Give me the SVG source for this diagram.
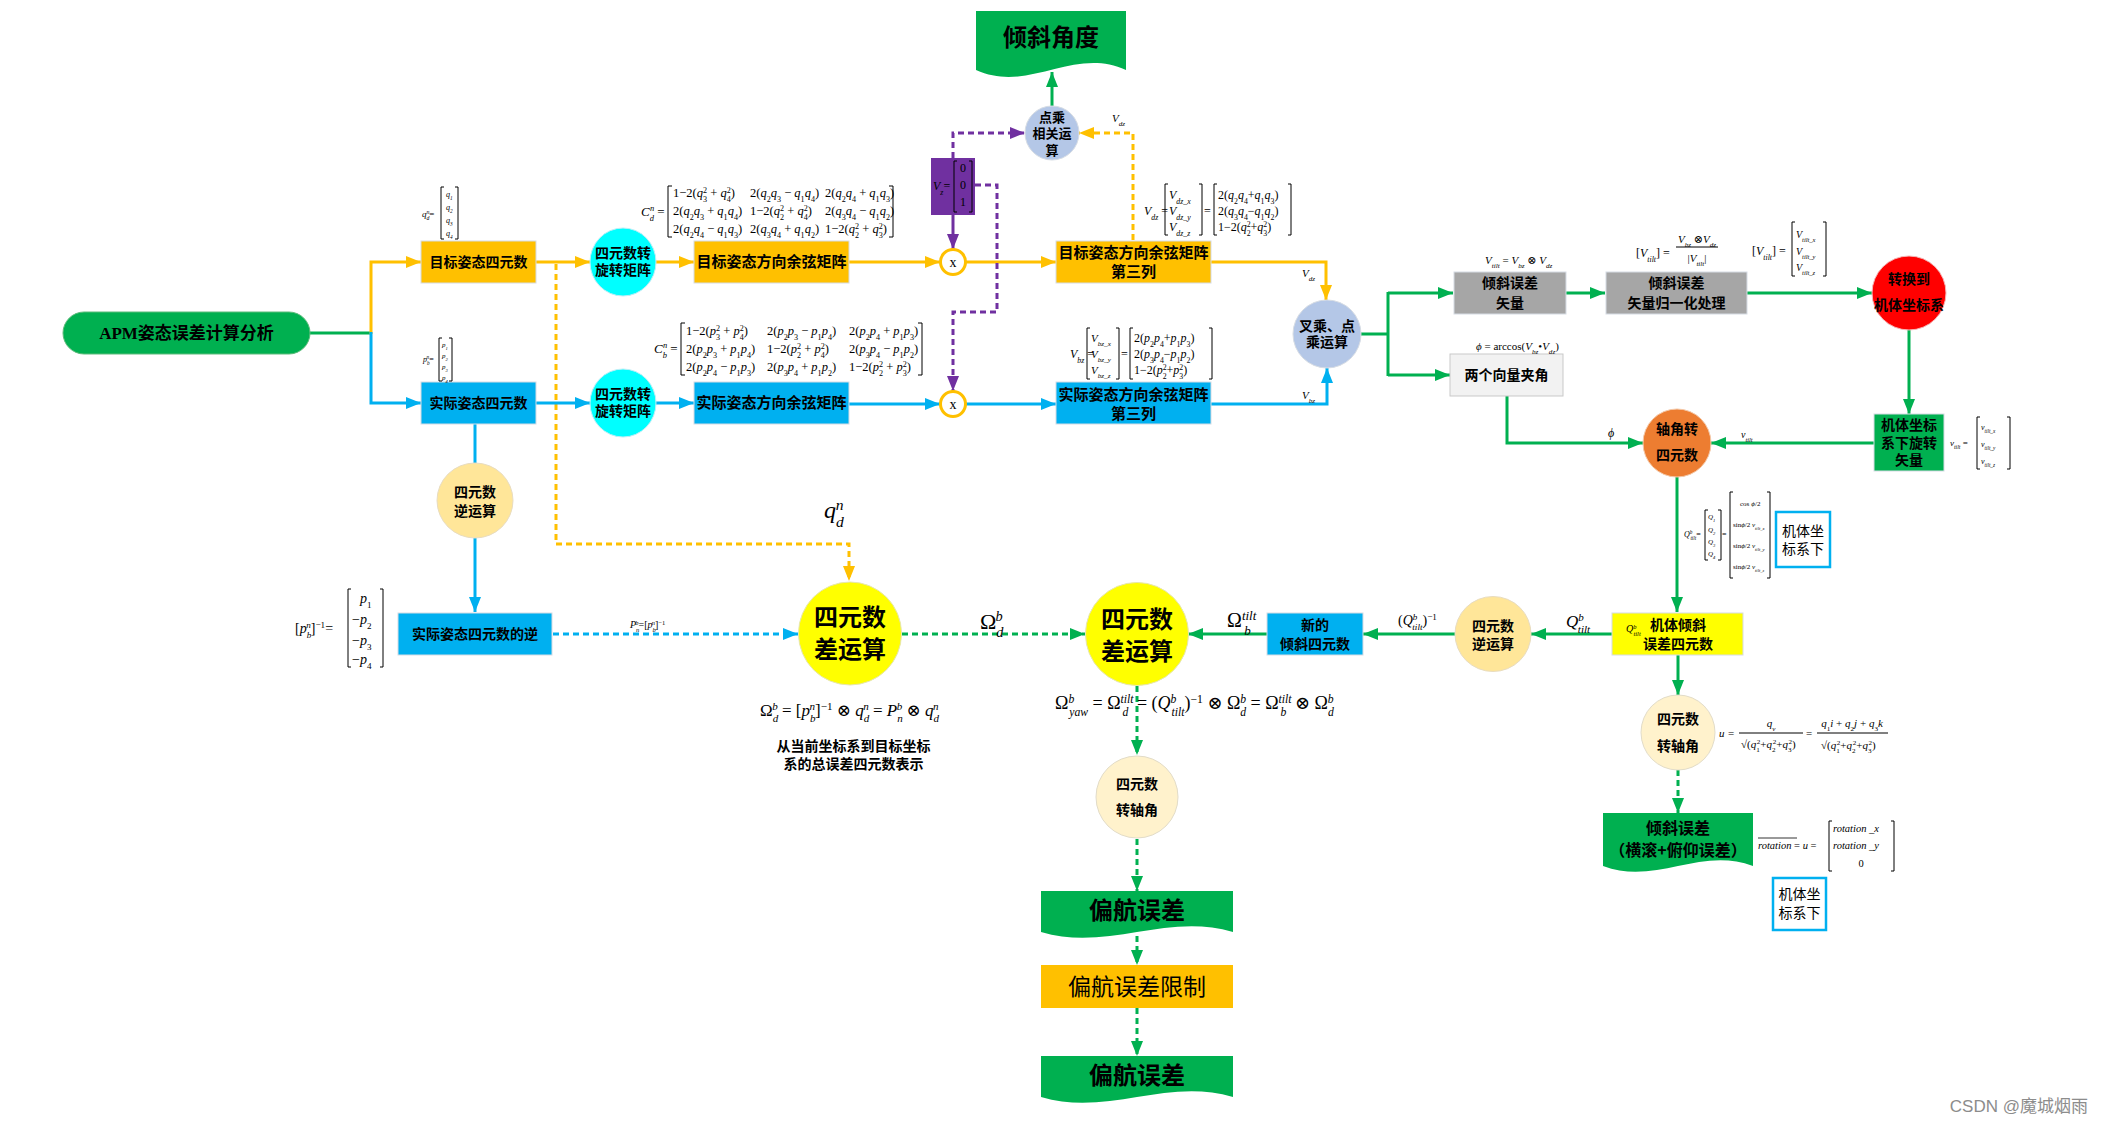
<svg xmlns="http://www.w3.org/2000/svg" width="2105" height="1126" viewBox="0 0 2105 1126">
<defs>
<style>
.cn{font-family:"Noto Sans CJK SC","Noto Sans",sans-serif;font-weight:bold;fill:#000;text-anchor:middle}
.cr{font-family:"Noto Sans CJK SC","Noto Sans",sans-serif;font-weight:normal;fill:#000;text-anchor:middle}
.m{font-family:"Liberation Serif","DejaVu Serif",serif;fill:#000}
.i{font-style:italic}
.s{font-size:65%;baseline-shift:sub}
.u{font-size:65%;baseline-shift:super}
.br{fill:none;stroke:#000;stroke-width:1}
.ln{fill:none;stroke-width:3}
.o{stroke:#FFC000}
.b{stroke:#00B0F0}
.g{stroke:#00B050}
.p{stroke:#7030A0}
.d{stroke-dasharray:6 4}
.box{stroke:#D6DCE4;stroke-width:1}
</style>
<marker id="mo" viewBox="0 0 15 12" refX="15" refY="6" markerWidth="15" markerHeight="12" markerUnits="userSpaceOnUse" orient="auto"><path d="M0,0 L15,6 L0,12 z" fill="#FFC000"/></marker>
<marker id="mb" viewBox="0 0 15 12" refX="15" refY="6" markerWidth="15" markerHeight="12" markerUnits="userSpaceOnUse" orient="auto"><path d="M0,0 L15,6 L0,12 z" fill="#00B0F0"/></marker>
<marker id="mg" viewBox="0 0 15 12" refX="15" refY="6" markerWidth="15" markerHeight="12" markerUnits="userSpaceOnUse" orient="auto"><path d="M0,0 L15,6 L0,12 z" fill="#00B050"/></marker>
<marker id="mp" viewBox="0 0 15 12" refX="15" refY="6" markerWidth="15" markerHeight="12" markerUnits="userSpaceOnUse" orient="auto"><path d="M0,0 L15,6 L0,12 z" fill="#7030A0"/></marker>
</defs>
<rect width="2105" height="1126" fill="#fff"/>

<g id="connectors">
<path class="ln g" d="M310,333 H371"/>
<path class="ln o" d="M371,334 V262 H421" marker-end="url(#mo)"/>
<path class="ln b" d="M371,332 V403 H421" marker-end="url(#mb)"/>
<path class="ln o" d="M536,262 H590" marker-end="url(#mo)"/>
<path class="ln o" d="M656,262 H694" marker-end="url(#mo)"/>
<path class="ln o" d="M849,262 H940" marker-end="url(#mo)"/>
<path class="ln o" d="M966,262 H1056" marker-end="url(#mo)"/>
<path class="ln o" d="M1211,262 H1326 V300" marker-end="url(#mo)"/>
<path class="ln o d" d="M556,264 V544 H849 V581" marker-end="url(#mo)"/>
<path class="ln o d" d="M1133,240 V133 H1079" marker-end="url(#mo)"/>
<path class="ln b" d="M536,403 H590" marker-end="url(#mb)"/>
<path class="ln b" d="M656,403 H694" marker-end="url(#mb)"/>
<path class="ln b" d="M849,404 H940" marker-end="url(#mb)"/>
<path class="ln b" d="M966,404 H1056" marker-end="url(#mb)"/>
<path class="ln b" d="M1211,404 H1327 V368" marker-end="url(#mb)"/>
<path class="ln b" d="M475,424 V463"/>
<path class="ln b" d="M475,538 V612" marker-end="url(#mb)"/>
<path class="ln b d" d="M553,634 H798" marker-end="url(#mb)"/>
<path class="ln p d" d="M953,158 V133 H1025" marker-end="url(#mp)"/>
<path class="ln p" d="M953,215 V249" marker-end="url(#mp)"/>
<path class="ln p d" d="M975,185 H997 V312 H953 V391" marker-end="url(#mp)"/>
<path class="ln g" d="M1052,106 V72" marker-end="url(#mg)"/>
<path class="ln g" d="M1361,334 H1388 M1388,292 V376"/>
<path class="ln g" d="M1388,293 H1453" marker-end="url(#mg)"/>
<path class="ln g" d="M1388,375 H1450" marker-end="url(#mg)"/>
<path class="ln g" d="M1566,293 H1605" marker-end="url(#mg)"/>
<path class="ln g" d="M1747,293 H1872" marker-end="url(#mg)"/>
<path class="ln g" d="M1909,330 V414" marker-end="url(#mg)"/>
<path class="ln g" d="M1874,443 H1711" marker-end="url(#mg)"/>
<path class="ln g" d="M1507,396 V443 H1643" marker-end="url(#mg)"/>
<path class="ln g" d="M1677,477 V612" marker-end="url(#mg)"/>
<path class="ln g" d="M1612,634 H1531" marker-end="url(#mg)"/>
<path class="ln g" d="M1455,634 H1363" marker-end="url(#mg)"/>
<path class="ln g" d="M1267,634 H1188" marker-end="url(#mg)"/>
<path class="ln g" d="M1678,655 V695" marker-end="url(#mg)"/>
<path class="ln g d" d="M1678,770 V813" marker-end="url(#mg)"/>
<path class="ln g d" d="M902,634 H1085" marker-end="url(#mg)"/>
<path class="ln g d" d="M1137,686 V755" marker-end="url(#mg)"/>
<path class="ln g d" d="M1137,839 V891" marker-end="url(#mg)"/>
<path class="ln g d" d="M1137,936 V965" marker-end="url(#mg)"/>
<path class="ln g d" d="M1137,1008 V1056" marker-end="url(#mg)"/>
</g>

<g id="n-apm">
<rect x="63" y="312" width="247" height="42" rx="21" fill="#00B050" stroke="#5DBB7A"/>
<text x="186.5" y="339" font-size="17" font-weight="bold" text-anchor="middle" font-family="Liberation Serif,Noto Sans CJK SC,serif">APM姿态误差计算分析</text>
</g>
<g id="n-target-q">
<rect class="box" x="421" y="241" width="115" height="42" fill="#FFC000"/>
<text class="cn" x="478.5" y="267" font-size="14">目标姿态四元数</text>
</g>
<g id="n-actual-q">
<rect class="box" x="421" y="382" width="115" height="42" fill="#00B0F0"/>
<text class="cn" x="478.5" y="408" font-size="14">实际姿态四元数</text>
</g>
<g id="n-rot1">
<ellipse cx="623" cy="262" rx="33" ry="34" fill="#00FFFF" stroke="#BDEFF7"/>
<text class="cn" x="623" y="258" font-size="14">四元数转</text>
<text class="cn" x="623" y="275" font-size="14">旋转矩阵</text>
</g>
<g id="n-rot2">
<ellipse cx="623" cy="403" rx="33" ry="34" fill="#00FFFF" stroke="#BDEFF7"/>
<text class="cn" x="623" y="399" font-size="14">四元数转</text>
<text class="cn" x="623" y="416" font-size="14">旋转矩阵</text>
</g>
<g id="n-dcm-d">
<rect class="box" x="694" y="241" width="155" height="42" fill="#FFC000"/>
<text class="cn" x="771.5" y="267" font-size="15">目标姿态方向余弦矩阵</text>
</g>
<g id="n-dcm-b">
<rect class="box" x="694" y="382" width="155" height="42" fill="#00B0F0"/>
<text class="cn" x="771.5" y="408" font-size="15">实际姿态方向余弦矩阵</text>
</g>
<g id="n-mul1">
<circle cx="953" cy="262" r="12.5" fill="#fff" stroke="#FFC000" stroke-width="3"/>
<text class="m" x="953" y="267" font-size="14" text-anchor="middle">x</text>
</g>
<g id="n-mul2">
<circle cx="953" cy="404" r="12.5" fill="#fff" stroke="#FFC000" stroke-width="3"/>
<text class="m" x="953" y="409" font-size="14" text-anchor="middle">x</text>
</g>
<g id="n-col3-d">
<rect class="box" x="1056" y="241" width="155" height="42" fill="#FFC000"/>
<text class="cn" x="1133.5" y="258" font-size="15">目标姿态方向余弦矩阵</text>
<text class="cn" x="1133.5" y="277" font-size="15">第三列</text>
</g>
<g id="n-col3-b">
<rect class="box" x="1056" y="382" width="155" height="42" fill="#00B0F0"/>
<text class="cn" x="1133.5" y="400" font-size="15">实际姿态方向余弦矩阵</text>
<text class="cn" x="1133.5" y="419" font-size="15">第三列</text>
</g>
<g id="n-vz">
<rect x="931" y="158" width="44" height="57" fill="#7030A0"/>
<text class="m" x="933" y="190" font-size="12"><tspan class="i">V</tspan><tspan class="s i">z</tspan>=</text>
<path class="br" d="M957,161 H954 V212 H957 M969,161 H972 V212 H969"/>
<text class="m" x="963" y="172" font-size="12" text-anchor="middle">0</text>
<text class="m" x="963" y="189" font-size="12" text-anchor="middle">0</text>
<text class="m" x="963" y="206" font-size="12" text-anchor="middle">1</text>
</g>
<g id="n-dot">
<circle cx="1052" cy="133" r="27" fill="#B4C7E7" stroke="#D6DCE4"/>
<text class="cn" x="1052" y="121.5" font-size="13">点乘</text>
<text class="cn" x="1052" y="138" font-size="13">相关运</text>
<text class="cn" x="1052" y="154.5" font-size="13">算</text>
</g>
<g id="n-tilt-angle">
<path d="M976,11 H1126 V70 C1073,46 1029,94 976,70 Z" fill="#00B050"/>
<text class="cn" x="1051" y="46" font-size="24">倾斜角度</text>
</g>
<g id="n-cross">
<ellipse cx="1327" cy="334" rx="34" ry="34" fill="#B4C7E7" stroke="#D6DCE4"/>
<text class="cn" x="1327" y="331" font-size="14">叉乘、点</text>
<text class="cn" x="1327" y="347" font-size="14">乘运算</text>
</g>
<g id="n-tilt-vec">
<rect class="box" x="1454" y="272" width="112" height="42" fill="#A6A6A6"/>
<text class="cn" x="1510" y="288" font-size="14">倾斜误差</text>
<text class="cn" x="1510" y="308" font-size="14">矢量</text>
</g>
<g id="n-tilt-norm">
<rect class="box" x="1606" y="272" width="141" height="42" fill="#A6A6A6"/>
<text class="cn" x="1676.5" y="288" font-size="14">倾斜误差</text>
<text class="cn" x="1676.5" y="308" font-size="14">矢量归一化处理</text>
</g>
<g id="n-to-body">
<circle cx="1909" cy="293" r="37" fill="#FF0000" stroke="#F4B6B6"/>
<text class="cn" x="1909" y="284" font-size="14">转换到</text>
<text class="cn" x="1909" y="310" font-size="14">机体坐标系</text>
</g>
<g id="n-body-rot">
<rect class="box" x="1874" y="414" width="70" height="57" fill="#00B050"/>
<text class="cn" x="1909" y="430" font-size="14">机体坐标</text>
<text class="cn" x="1909" y="448" font-size="14">系下旋转</text>
<text class="cn" x="1909" y="465" font-size="14">矢量</text>
</g>
<g id="n-angle">
<rect x="1450" y="354" width="113" height="42" fill="#F2F2F2" stroke="#C9C9C9"/>
<text class="cn" x="1506.5" y="380" font-size="14">两个向量夹角</text>
</g>
<g id="n-axis2quat">
<circle cx="1677" cy="443" r="34" fill="#ED7D31" stroke="#F4C7A6"/>
<text class="cn" x="1677" y="434" font-size="14">轴角转</text>
<text class="cn" x="1677" y="460" font-size="14">四元数</text>
</g>
<g id="n-tilt-quat">
<rect class="box" x="1612" y="613" width="131" height="42" fill="#FFFF00"/>
<text class="m" x="1626" y="632" font-size="10"><tspan class="i">Q</tspan><tspan class="u i">b</tspan><tspan class="s i" dx="-3">tilt</tspan></text>
<text class="cn" x="1678" y="630" font-size="14">机体倾斜</text>
<text class="cn" x="1678" y="649" font-size="14">误差四元数</text>
</g>
<g id="n-inv2">
<ellipse cx="1493" cy="634" rx="38" ry="37.5" fill="#FFE699" stroke="#E8DCC0"/>
<text class="cn" x="1493" y="631" font-size="14">四元数</text>
<text class="cn" x="1493" y="649" font-size="14">逆运算</text>
</g>
<g id="n-new-tilt">
<rect class="box" x="1267" y="613" width="96" height="42" fill="#00B0F0"/>
<text class="cn" x="1315" y="630" font-size="14">新的</text>
<text class="cn" x="1315" y="649" font-size="14">倾斜四元数</text>
</g>
<g id="n-diff1">
<circle cx="850" cy="633.5" r="51.5" fill="#FFFF00" stroke="#E6E6B0"/>
<text class="cn" x="850" y="626" font-size="24">四元数</text>
<text class="cn" x="850" y="658" font-size="24">差运算</text>
</g>
<g id="n-diff2">
<circle cx="1137" cy="634" r="51.5" fill="#FFFF00" stroke="#E6E6B0"/>
<text class="cn" x="1137" y="628" font-size="24">四元数</text>
<text class="cn" x="1137" y="660" font-size="24">差运算</text>
</g>
<g id="n-inv1">
<ellipse cx="475" cy="500.5" rx="38" ry="37.5" fill="#FFE699" stroke="#E8DCC0"/>
<text class="cn" x="475" y="497" font-size="14">四元数</text>
<text class="cn" x="475" y="516" font-size="14">逆运算</text>
</g>
<g id="n-actual-inv">
<rect class="box" x="398" y="613" width="154" height="42" fill="#00B0F0"/>
<text class="cn" x="475" y="639" font-size="14">实际姿态四元数的逆</text>
</g>
<g id="n-q2axis2">
<ellipse cx="1137" cy="797" rx="41" ry="41" fill="#FFF2CC" stroke="#E2DCC8"/>
<text class="cn" x="1137" y="788.5" font-size="14">四元数</text>
<text class="cn" x="1137" y="814.5" font-size="14">转轴角</text>
</g>
<g id="n-q2axis1">
<ellipse cx="1678" cy="732.5" rx="37" ry="37.5" fill="#FFF2CC" stroke="#E2DCC8"/>
<text class="cn" x="1678" y="724" font-size="14">四元数</text>
<text class="cn" x="1678" y="751" font-size="14">转轴角</text>
</g>
<g id="n-tilt-err">
<path d="M1603,813 H1753 V866 C1700,846 1656,886 1603,866 Z" fill="#00B050"/>
<text class="cn" x="1678" y="834" font-size="16">倾斜误差</text>
<text class="cn" x="1678" y="856" font-size="16">（横滚+俯仰误差）</text>
</g>
<g id="n-yaw1">
<path d="M1041,891 H1233 V932 C1166,912 1108,952 1041,932 Z" fill="#00B050"/>
<text class="cn" x="1137" y="918.5" font-size="24">偏航误差</text>
</g>
<g id="n-yaw-limit">
<rect x="1041" y="965" width="192" height="43" fill="#FFC000"/>
<text class="cr" x="1137" y="995" font-size="23">偏航误差限制</text>
</g>
<g id="n-yaw2">
<path d="M1041,1056 H1233 V1097 C1166,1077 1108,1117 1041,1097 Z" fill="#00B050"/>
<text class="cn" x="1137" y="1083.5" font-size="24">偏航误差</text>
</g>
<g id="n-body-note1">
<rect x="1776" y="512" width="54" height="55" fill="#fff" stroke="#00B0F0" stroke-width="2.5"/>
<text class="cr" x="1803" y="536" font-size="14">机体坐</text>
<text class="cr" x="1803" y="554" font-size="14">标系下</text>
</g>
<g id="n-body-note2">
<rect x="1773" y="878" width="53" height="52" fill="#fff" stroke="#00B0F0" stroke-width="2.5"/>
<text class="cr" x="1799.5" y="899" font-size="14">机体坐</text>
<text class="cr" x="1799.5" y="918" font-size="14">标系下</text>
</g>

<g id="formulas">
<text class="m" x="422" y="217" font-size="9"><tspan class="i">q</tspan><tspan class="s i">d</tspan><tspan class="u i" dx="-3">n</tspan>=</text>
<path class="br" d="M444,187 H441 V239 H444 M455,187 H458 V239 H455"/>
<text class="m i" x="446" y="197" font-size="8">q<tspan class="s">1</tspan></text>
<text class="m i" x="446" y="210" font-size="8">q<tspan class="s">2</tspan></text>
<text class="m i" x="446" y="223" font-size="8">q<tspan class="s">3</tspan></text>
<text class="m i" x="446" y="236" font-size="8">q<tspan class="s">4</tspan></text>
<text class="m" x="423" y="362" font-size="8"><tspan class="i">p</tspan><tspan class="s i">b</tspan><tspan class="u i" dx="-3">n</tspan>=</text>
<path class="br" d="M442,338 H439 V381 H442 M449,338 H452 V381 H449"/>
<text class="m i" x="442" y="347" font-size="7">p<tspan class="s">1</tspan></text>
<text class="m i" x="442" y="358" font-size="7">p<tspan class="s">2</tspan></text>
<text class="m i" x="442" y="369" font-size="7">p<tspan class="s">3</tspan></text>
<text class="m i" x="442" y="380" font-size="7">p<tspan class="s">4</tspan></text>
<text class="m" x="641" y="216" font-size="13"><tspan class="i">C</tspan><tspan class="s i">d</tspan><tspan class="u i" dx="-4">n</tspan> =</text>
<path class="br" d="M672,186 H668 V237 H672 M889,186 H893 V237 H889"/>
<g class="m" font-size="12.5">
<text x="673" y="197">1−2(<tspan class="i">q</tspan><tspan class="s">3</tspan><tspan class="u" dx="-4">2</tspan> + <tspan class="i">q</tspan><tspan class="s">4</tspan><tspan class="u" dx="-4">2</tspan>)</text>
<text x="750" y="197">2(<tspan class="i">q</tspan><tspan class="s">2</tspan><tspan class="i">q</tspan><tspan class="s">3</tspan> − <tspan class="i">q</tspan><tspan class="s">1</tspan><tspan class="i">q</tspan><tspan class="s">4</tspan>)</text>
<text x="825" y="197">2(<tspan class="i">q</tspan><tspan class="s">2</tspan><tspan class="i">q</tspan><tspan class="s">4</tspan> + <tspan class="i">q</tspan><tspan class="s">1</tspan><tspan class="i">q</tspan><tspan class="s">3</tspan>)</text>
<text x="673" y="215">2(<tspan class="i">q</tspan><tspan class="s">2</tspan><tspan class="i">q</tspan><tspan class="s">3</tspan> + <tspan class="i">q</tspan><tspan class="s">1</tspan><tspan class="i">q</tspan><tspan class="s">4</tspan>)</text>
<text x="750" y="215">1−2(<tspan class="i">q</tspan><tspan class="s">2</tspan><tspan class="u" dx="-4">2</tspan> + <tspan class="i">q</tspan><tspan class="s">4</tspan><tspan class="u" dx="-4">2</tspan>)</text>
<text x="825" y="215">2(<tspan class="i">q</tspan><tspan class="s">3</tspan><tspan class="i">q</tspan><tspan class="s">4</tspan> − <tspan class="i">q</tspan><tspan class="s">1</tspan><tspan class="i">q</tspan><tspan class="s">2</tspan>)</text>
<text x="673" y="233">2(<tspan class="i">q</tspan><tspan class="s">2</tspan><tspan class="i">q</tspan><tspan class="s">4</tspan> − <tspan class="i">q</tspan><tspan class="s">1</tspan><tspan class="i">q</tspan><tspan class="s">3</tspan>)</text>
<text x="750" y="233">2(<tspan class="i">q</tspan><tspan class="s">3</tspan><tspan class="i">q</tspan><tspan class="s">4</tspan> + <tspan class="i">q</tspan><tspan class="s">1</tspan><tspan class="i">q</tspan><tspan class="s">2</tspan>)</text>
<text x="825" y="233">1−2(<tspan class="i">q</tspan><tspan class="s">2</tspan><tspan class="u" dx="-4">2</tspan> + <tspan class="i">q</tspan><tspan class="s">3</tspan><tspan class="u" dx="-4">2</tspan>)</text>
</g>
<text class="m" x="654" y="353" font-size="13"><tspan class="i">C</tspan><tspan class="s i">b</tspan><tspan class="u i" dx="-4">n</tspan> =</text>
<path class="br" d="M685,323 H681 V375 H685 M918,323 H922 V375 H918"/>
<g class="m" font-size="12.5">
<text x="686" y="335">1−2(<tspan class="i">p</tspan><tspan class="s">3</tspan><tspan class="u" dx="-4">2</tspan> + <tspan class="i">p</tspan><tspan class="s">4</tspan><tspan class="u" dx="-4">2</tspan>)</text>
<text x="767" y="335">2(<tspan class="i">p</tspan><tspan class="s">2</tspan><tspan class="i">p</tspan><tspan class="s">3</tspan> − <tspan class="i">p</tspan><tspan class="s">1</tspan><tspan class="i">p</tspan><tspan class="s">4</tspan>)</text>
<text x="849" y="335">2(<tspan class="i">p</tspan><tspan class="s">2</tspan><tspan class="i">p</tspan><tspan class="s">4</tspan> + <tspan class="i">p</tspan><tspan class="s">1</tspan><tspan class="i">p</tspan><tspan class="s">3</tspan>)</text>
<text x="686" y="353">2(<tspan class="i">p</tspan><tspan class="s">2</tspan><tspan class="i">p</tspan><tspan class="s">3</tspan> + <tspan class="i">p</tspan><tspan class="s">1</tspan><tspan class="i">p</tspan><tspan class="s">4</tspan>)</text>
<text x="767" y="353">1−2(<tspan class="i">p</tspan><tspan class="s">2</tspan><tspan class="u" dx="-4">2</tspan> + <tspan class="i">p</tspan><tspan class="s">4</tspan><tspan class="u" dx="-4">2</tspan>)</text>
<text x="849" y="353">2(<tspan class="i">p</tspan><tspan class="s">3</tspan><tspan class="i">p</tspan><tspan class="s">4</tspan> − <tspan class="i">p</tspan><tspan class="s">1</tspan><tspan class="i">p</tspan><tspan class="s">2</tspan>)</text>
<text x="686" y="371">2(<tspan class="i">p</tspan><tspan class="s">2</tspan><tspan class="i">p</tspan><tspan class="s">4</tspan> − <tspan class="i">p</tspan><tspan class="s">1</tspan><tspan class="i">p</tspan><tspan class="s">3</tspan>)</text>
<text x="767" y="371">2(<tspan class="i">p</tspan><tspan class="s">3</tspan><tspan class="i">p</tspan><tspan class="s">4</tspan> + <tspan class="i">p</tspan><tspan class="s">1</tspan><tspan class="i">p</tspan><tspan class="s">2</tspan>)</text>
<text x="849" y="371">1−2(<tspan class="i">p</tspan><tspan class="s">2</tspan><tspan class="u" dx="-4">2</tspan> + <tspan class="i">p</tspan><tspan class="s">3</tspan><tspan class="u" dx="-4">2</tspan>)</text>
</g>
<text class="m" x="1144" y="215" font-size="12"><tspan class="i">V</tspan><tspan class="s i">dz</tspan> =</text>
<path class="br" d="M1168,184 H1165 V235 H1168 M1199,184 H1202 V235 H1199"/>
<g class="m i" font-size="12">
<text x="1169" y="199">V<tspan class="s">dz_x</tspan></text>
<text x="1169" y="215">V<tspan class="s">dz_y</tspan></text>
<text x="1169" y="231">V<tspan class="s">dz_z</tspan></text>
</g>
<text class="m" x="1204" y="215" font-size="12">=</text>
<path class="br" d="M1217,184 H1214 V235 H1217 M1288,184 H1291 V235 H1288"/>
<g class="m" font-size="12">
<text x="1218" y="199">2(<tspan class="i">q</tspan><tspan class="s">2</tspan><tspan class="i">q</tspan><tspan class="s">4</tspan>+<tspan class="i">q</tspan><tspan class="s">1</tspan><tspan class="i">q</tspan><tspan class="s">3</tspan>)</text>
<text x="1218" y="215">2(<tspan class="i">q</tspan><tspan class="s">3</tspan><tspan class="i">q</tspan><tspan class="s">4</tspan>−<tspan class="i">q</tspan><tspan class="s">1</tspan><tspan class="i">q</tspan><tspan class="s">2</tspan>)</text>
<text x="1218" y="231">1−2(<tspan class="i">q</tspan><tspan class="s">2</tspan><tspan class="u" dx="-4">2</tspan>+<tspan class="i">q</tspan><tspan class="s">3</tspan><tspan class="u" dx="-4">2</tspan>)</text>
</g>
<text class="m" x="1070" y="358" font-size="12"><tspan class="i">V</tspan><tspan class="s i">bz</tspan> =</text>
<path class="br" d="M1090,328 H1087 V379 H1090 M1116,328 H1119 V379 H1116"/>
<g class="m i" font-size="11">
<text x="1091" y="342">V<tspan class="s">bz_x</tspan></text>
<text x="1091" y="358">V<tspan class="s">bz_y</tspan></text>
<text x="1091" y="374">V<tspan class="s">bz_z</tspan></text>
</g>
<text class="m" x="1121" y="358" font-size="12">=</text>
<path class="br" d="M1133,328 H1130 V379 H1133 M1209,328 H1212 V379 H1209"/>
<g class="m" font-size="12">
<text x="1134" y="342">2(<tspan class="i">p</tspan><tspan class="s">2</tspan><tspan class="i">p</tspan><tspan class="s">4</tspan>+<tspan class="i">p</tspan><tspan class="s">1</tspan><tspan class="i">p</tspan><tspan class="s">3</tspan>)</text>
<text x="1134" y="358">2(<tspan class="i">p</tspan><tspan class="s">3</tspan><tspan class="i">p</tspan><tspan class="s">4</tspan>−<tspan class="i">p</tspan><tspan class="s">1</tspan><tspan class="i">p</tspan><tspan class="s">2</tspan>)</text>
<text x="1134" y="374">1−2(<tspan class="i">p</tspan><tspan class="s">2</tspan><tspan class="u" dx="-4">2</tspan>+<tspan class="i">p</tspan><tspan class="s">3</tspan><tspan class="u" dx="-4">2</tspan>)</text>
</g>
<text class="m i" x="1112" y="122" font-size="11">V<tspan class="s">dz</tspan></text>
<text class="m i" x="1302" y="277" font-size="11">V<tspan class="s">dz</tspan></text>
<text class="m i" x="1302" y="399" font-size="11">V<tspan class="s">bz</tspan></text>
<text class="m" x="1485" y="264" font-size="11"><tspan class="i">V</tspan><tspan class="s i">tilt</tspan> = <tspan class="i">V</tspan><tspan class="s i">bz</tspan> ⊗ <tspan class="i">V</tspan><tspan class="s i">dz</tspan></text>
<text class="m" x="1636" y="257" font-size="12">[<tspan class="i">V</tspan><tspan class="s i">tilt</tspan>] =</text>
<text class="m" x="1697" y="243" font-size="11" text-anchor="middle"><tspan class="i">V</tspan><tspan class="s i">bz</tspan> ⊗<tspan class="i">V</tspan><tspan class="s i">dz</tspan></text>
<path d="M1676,247 H1718" stroke="#000" stroke-width="1"/>
<text class="m" x="1697" y="262" font-size="11" text-anchor="middle">|<tspan class="i">V</tspan><tspan class="s i">tilt</tspan>|</text>
<text class="m" x="1752" y="255" font-size="12">[<tspan class="i">V</tspan><tspan class="s i">tilt</tspan>] =</text>
<path class="br" d="M1795,222 H1792 V276 H1795 M1823,222 H1826 V276 H1823"/>
<g class="m i" font-size="10">
<text x="1796" y="238">V<tspan class="s">tilt_x</tspan></text>
<text x="1796" y="255">V<tspan class="s">tilt_y</tspan></text>
<text x="1796" y="271">V<tspan class="s">tilt_z</tspan></text>
</g>
<text class="m" x="1476" y="350" font-size="11"><tspan class="i">ϕ</tspan> = arccos(<tspan class="i">V</tspan><tspan class="s i">bz</tspan>•<tspan class="i">V</tspan><tspan class="s i">dz</tspan>)</text>
<text class="m i" x="1608" y="437" font-size="12">ϕ</text>
<text class="m i" x="1741" y="438" font-size="10">v<tspan class="s">tilt</tspan></text>
<text class="m" x="1950" y="446" font-size="9"><tspan class="i">v</tspan><tspan class="s i">tilt</tspan> =</text>
<path class="br" d="M1980,417 H1977 V469 H1980 M2007,417 H2010 V469 H2007"/>
<g class="m i" font-size="8">
<text x="1981" y="430">v<tspan class="s">tilt_x</tspan></text>
<text x="1981" y="447">v<tspan class="s">tilt_y</tspan></text>
<text x="1981" y="464">v<tspan class="s">tilt_z</tspan></text>
</g>
<text class="m" x="1684" y="537" font-size="8"><tspan class="i">Q</tspan><tspan class="u i">b</tspan><tspan class="s i" dx="-2">tilt</tspan>=</text>
<path class="br" d="M1708,510 H1705 V560 H1708 M1718,510 H1721 V560 H1718"/>
<g class="m i" font-size="7">
<text x="1708" y="519">Q<tspan class="s">1</tspan></text>
<text x="1708" y="532">Q<tspan class="s">2</tspan></text>
<text x="1708" y="544">Q<tspan class="s">3</tspan></text>
<text x="1708" y="556">Q<tspan class="s">4</tspan></text>
</g>
<text class="m" x="1722" y="537" font-size="8">=</text>
<path class="br" d="M1733,492 H1730 V578 H1733 M1767,492 H1770 V578 H1767"/>
<g class="m" font-size="7">
<text x="1740" y="506">cos<tspan class="i" dx="2">ϕ</tspan>/2</text>
<text x="1733" y="527">sin<tspan class="i">ϕ</tspan>/2 <tspan class="i">v</tspan><tspan class="s i">tilt_x</tspan></text>
<text x="1733" y="548">sin<tspan class="i">ϕ</tspan>/2 <tspan class="i">v</tspan><tspan class="s i">tilt_y</tspan></text>
<text x="1733" y="569">sin<tspan class="i">ϕ</tspan>/2 <tspan class="i">v</tspan><tspan class="s i">tilt_z</tspan></text>
</g>
<text class="m" x="1566" y="627" font-size="17"><tspan class="i">Q</tspan><tspan class="u i">b</tspan><tspan class="s i" dx="-6">tilt</tspan></text>
<text class="m" x="1398" y="625" font-size="14">(<tspan class="i">Q</tspan><tspan class="u i">b</tspan><tspan class="s i" dx="-5">tilt</tspan>)<tspan class="u">−1</tspan></text>
<text class="m i" x="1719" y="737" font-size="11">u</text>
<text class="m" x="1728" y="737" font-size="11">=</text>
<text class="m i" x="1771" y="727" font-size="11" text-anchor="middle">q<tspan class="s">v</tspan></text>
<path d="M1739,733 H1803 M1817,733 H1888" stroke="#000" stroke-width="1"/>
<text class="m" x="1741" y="748" font-size="11">√(<tspan class="i">q</tspan><tspan class="s">1</tspan><tspan class="u" dx="-3">2</tspan>+<tspan class="i">q</tspan><tspan class="s">2</tspan><tspan class="u" dx="-3">2</tspan>+<tspan class="i">q</tspan><tspan class="s">3</tspan><tspan class="u" dx="-3">2</tspan>)</text>
<text class="m" x="1806" y="737" font-size="11">=</text>
<text class="m" x="1852" y="727" font-size="11" text-anchor="middle"><tspan class="i">q</tspan><tspan class="s">1</tspan><tspan class="i">i</tspan> + <tspan class="i">q</tspan><tspan class="s">2</tspan><tspan class="i">j</tspan> + <tspan class="i">q</tspan><tspan class="s">3</tspan><tspan class="i">k</tspan></text>
<text class="m" x="1821" y="749" font-size="11">√(<tspan class="i">q</tspan><tspan class="s">1</tspan><tspan class="u" dx="-3">2</tspan>+<tspan class="i">q</tspan><tspan class="s">2</tspan><tspan class="u" dx="-3">2</tspan>+<tspan class="i">q</tspan><tspan class="s">3</tspan><tspan class="u" dx="-3">2</tspan>)</text>
<path d="M1758,838 H1797" stroke="#000" stroke-width="0.8"/>
<text class="m" x="1758" y="849" font-size="10.5"><tspan class="i">rotation</tspan> = <tspan class="i">u</tspan> =</text>
<path class="br" d="M1832,821 H1829 V871 H1832 M1891,821 H1894 V871 H1891"/>
<g class="m i" font-size="10.5">
<text x="1833" y="832">rotation _x</text>
<text x="1833" y="849">rotation _y</text>
</g>
<text class="m" x="1861" y="867" font-size="10.5" text-anchor="middle">0</text>
<text class="m" x="295" y="633" font-size="14">[<tspan class="i">p</tspan><tspan class="s i">b</tspan><tspan class="u i" dx="-5">n</tspan>]<tspan class="u">−1</tspan>=</text>
<path class="br" d="M351,589 H348 V667 H351 M380,589 H383 V667 H380"/>
<g class="m" font-size="14">
<text x="360" y="603"><tspan class="i">p</tspan><tspan class="s">1</tspan></text>
<text x="352" y="624">−<tspan class="i">p</tspan><tspan class="s">2</tspan></text>
<text x="352" y="645">−<tspan class="i">p</tspan><tspan class="s">3</tspan></text>
<text x="352" y="664">−<tspan class="i">p</tspan><tspan class="s">4</tspan></text>
</g>
<text class="m" x="630" y="628" font-size="10"><tspan class="i">P</tspan><tspan class="s i">n</tspan><tspan class="u i" dx="-4">b</tspan>=[<tspan class="i">p</tspan><tspan class="s i">b</tspan><tspan class="u i" dx="-4">n</tspan>]<tspan class="u">−1</tspan></text>
<text class="m i" x="824" y="518" font-size="24">q<tspan class="s">d</tspan><tspan class="u" dx="-8">n</tspan></text>
<text class="m" x="760" y="716" font-size="17">Ω<tspan class="s i">d</tspan><tspan class="u i" dx="-6">b</tspan> = [<tspan class="i">p</tspan><tspan class="s i">b</tspan><tspan class="u i" dx="-6">n</tspan>]<tspan class="u">−1</tspan> ⊗ <tspan class="i">q</tspan><tspan class="s i">d</tspan><tspan class="u i" dx="-6">n</tspan> = <tspan class="i">P</tspan><tspan class="s i">n</tspan><tspan class="u i" dx="-6">b</tspan> ⊗ <tspan class="i">q</tspan><tspan class="s i">d</tspan><tspan class="u i" dx="-6">n</tspan></text>
<text class="cn" x="853.5" y="751" font-size="14">从当前坐标系到目标坐标</text>
<text class="cn" x="853.5" y="769" font-size="14">系的总误差四元数表示</text>
<text class="m" x="980" y="629" font-size="22">Ω<tspan class="s i">d</tspan><tspan class="u i" dx="-8">b</tspan></text>
<text class="m" x="1227" y="627" font-size="20">Ω<tspan class="u i">tilt</tspan><tspan class="s i" dx="-12">b</tspan></text>
<text class="m" x="1055" y="709" font-size="18">Ω<tspan class="u i">b</tspan><tspan class="s i" dx="-5">yaw</tspan> = Ω<tspan class="u i">tilt</tspan><tspan class="s i" dx="-11">d</tspan><tspan dx="4"> = (</tspan><tspan class="i">Q</tspan><tspan class="u i">b</tspan><tspan class="s i" dx="-5">tilt</tspan>)<tspan class="u">−1</tspan> ⊗ Ω<tspan class="s i">d</tspan><tspan class="u i" dx="-6">b</tspan> = Ω<tspan class="u i">tilt</tspan><tspan class="s i" dx="-11">b</tspan><tspan dx="4"> ⊗ Ω</tspan><tspan class="s i">d</tspan><tspan class="u i" dx="-6">b</tspan></text>
</g>
<text x="2088" y="1112" font-size="17" fill="#8C8C8C" text-anchor="end" font-family="Liberation Sans,Noto Sans CJK SC,sans-serif">CSDN @魔城烟雨</text>
</svg>
